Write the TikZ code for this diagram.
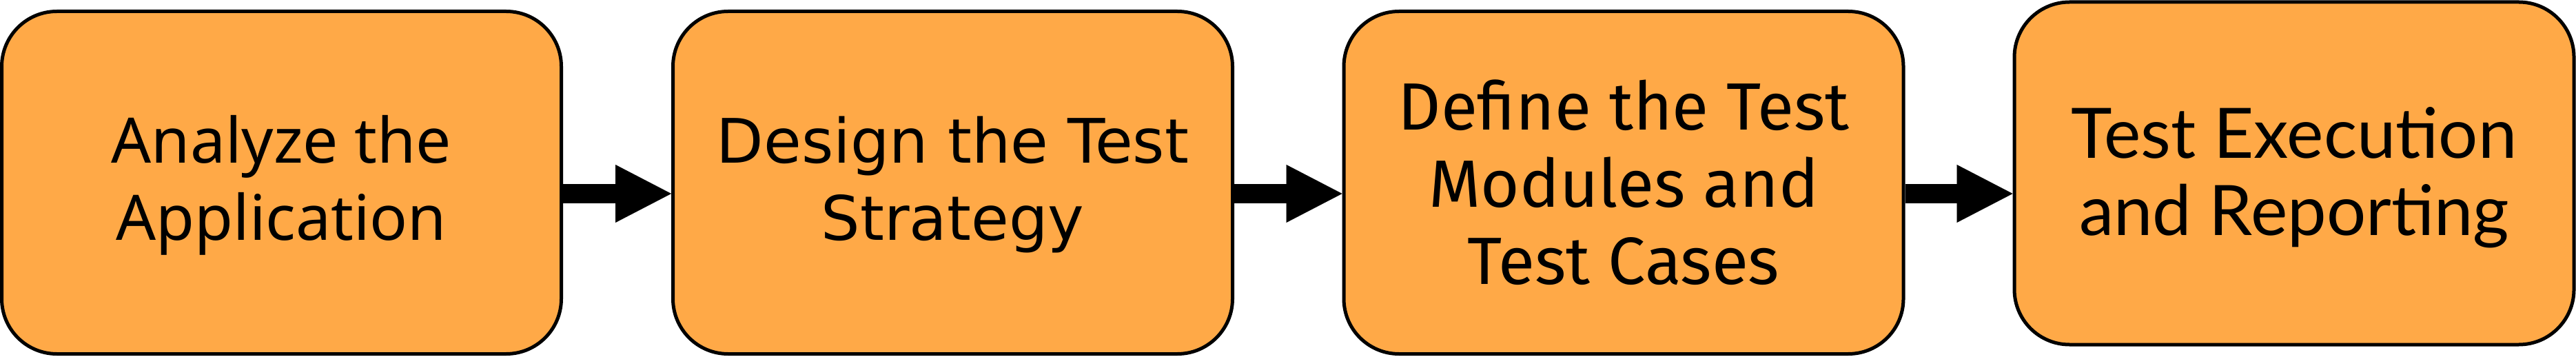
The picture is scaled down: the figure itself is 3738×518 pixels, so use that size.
\documentclass[tikz,border=0pt]{standalone}
\usepackage{fontspec}
\usetikzlibrary{arrows.meta}
\newfontfamily\fontA{Noto Sans}
\newfontfamily\fontB{DejaVu Sans}
\newfontfamily\fontC{Fira Sans}
\newfontfamily\fontD{Lato}
\definecolor{boxorange}{RGB}{255,169,71}
\newcommand\pushdown[1]{\rule{0pt}{\dimexpr\fontcharht\font`l+#1\relax}}
\begin{document}
\begin{tikzpicture}[x=1pt,y=-1pt,
  stepbox/.style={draw=black, line width=5pt, fill=boxorange, rounded corners=80pt,
    minimum width=812pt, minimum height=497pt, inner sep=0pt, align=center, text=black},
  flow/.style={draw=black, line width=28pt,
    -{Triangle[length=81pt,width=84pt,line width=0.1pt]}}]
\useasboundingbox (0,0) rectangle (3738,518);
\node[stepbox, font=\fontA\fontsize{91}{112}\selectfont] (a) at (408.5,265) {\pushdown{8pt}Analyze the\\Application};
\node[stepbox, font=\fontB\fontsize{89}{112}\selectfont] (b) at (1382.5,265) {\pushdown{8pt}Design the Test\\Strategy};
\node[stepbox, font=\fontC\fontsize{97}{112}\selectfont] (c) at (2356,265) {Define the Test\\Modules and\\Test Cases};
\node[stepbox, font=\fontD\fontsize{101}{112}\selectfont] (d) at (3329,251.5) {\pushdown{14pt}Test Execution\\and Reporting};
\coordinate (ay) at (0,281);
\draw[flow] (a.east |- ay) -- (b.west |- ay);
\draw[flow] (b.east |- ay) -- (c.west |- ay);
\draw[flow] (c.east |- ay) -- (d.west |- ay);
\end{tikzpicture}
\end{document}
